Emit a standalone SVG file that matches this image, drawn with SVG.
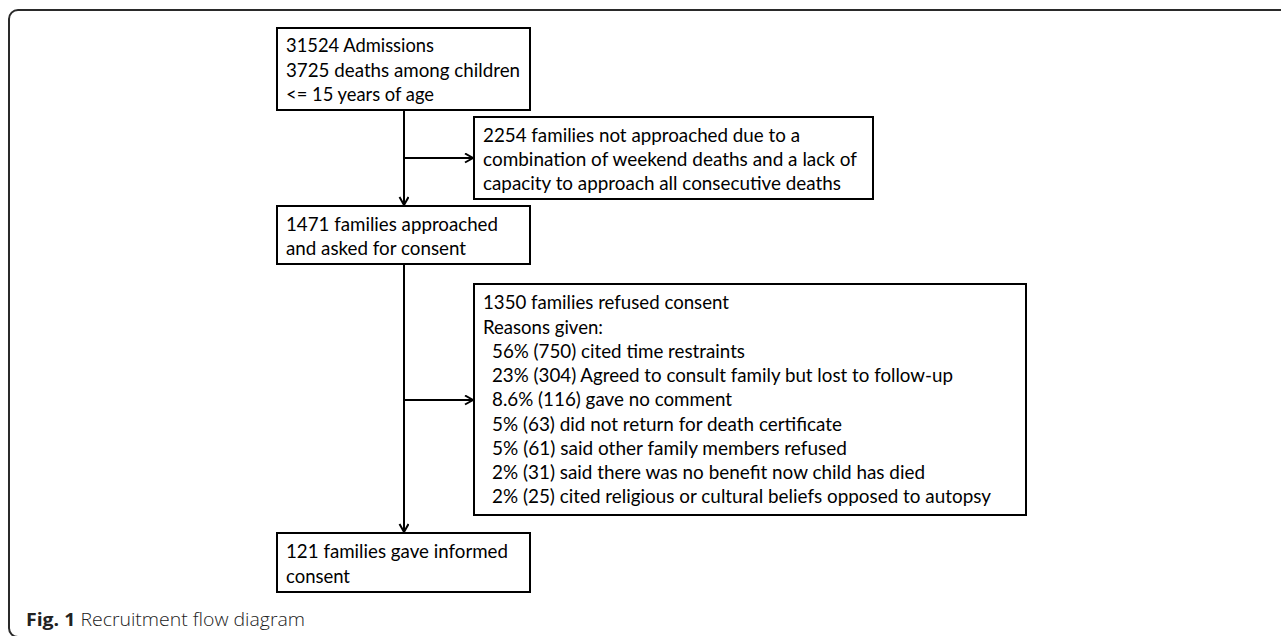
<svg xmlns="http://www.w3.org/2000/svg" width="1281" height="636" viewBox="0 0 1281 636">
<style>
.box{fill:#fff;stroke:#000;stroke-width:2}
.t{font-family:Lato,"Open Sans",sans-serif;font-size:19px;fill:#000}
.conn{stroke:#000;stroke-width:2;fill:none}
.cap{font-family:"Open Sans",sans-serif;font-size:18.5px;fill:#222}
</style>
<defs>
<marker id="arr" markerUnits="userSpaceOnUse" markerWidth="12" markerHeight="12" refX="9" refY="5" orient="auto">
<path d="M1,0.5 L9,5 L1,9.5" fill="none" stroke="#000" stroke-width="2"/>
</marker>
</defs>
<rect width="1281" height="636" fill="#fff"/>
<rect x="9" y="10" width="1300" height="627" rx="9" fill="none" stroke="#2a2a2a" stroke-width="2"/>
<g id="connectors">
<line class="conn" x1="404" y1="110" x2="404" y2="205" marker-end="url(#arr)"/>
<line class="conn" x1="404" y1="158" x2="473" y2="158" marker-end="url(#arr)"/>
<line class="conn" x1="404" y1="264" x2="404" y2="532" marker-end="url(#arr)"/>
<line class="conn" x1="404" y1="400" x2="473" y2="400" marker-end="url(#arr)"/>
</g>
<g id="admissions">
<rect class="box" x="277" y="28" width="253" height="82"/>
<text class="t" x="286" y="52" textLength="148" lengthAdjust="spacingAndGlyphs">31524 Admissions</text>
<text class="t" x="286" y="77" textLength="234" lengthAdjust="spacingAndGlyphs">3725 deaths among children</text>
<text class="t" x="286" y="101" textLength="148" lengthAdjust="spacingAndGlyphs">&lt;= 15 years of age</text>
</g>
<g id="not-approached">
<rect class="box" x="474" y="117" width="399" height="82"/>
<text class="t" x="483" y="142" textLength="317" lengthAdjust="spacingAndGlyphs">2254 families not approached due to a</text>
<text class="t" x="483" y="166" textLength="374" lengthAdjust="spacingAndGlyphs">combination of weekend deaths and a lack of</text>
<text class="t" x="483" y="190" textLength="358" lengthAdjust="spacingAndGlyphs">capacity to approach all consecutive deaths</text>
</g>
<g id="approached">
<rect class="box" x="277" y="206" width="253" height="58"/>
<text class="t" x="286" y="231" textLength="212" lengthAdjust="spacingAndGlyphs">1471 families approached</text>
<text class="t" x="286" y="255" textLength="180" lengthAdjust="spacingAndGlyphs">and asked for consent</text>
</g>
<g id="refused">
<rect class="box" x="474" y="284" width="552" height="231"/>
<text class="t" x="483" y="309" textLength="246" lengthAdjust="spacingAndGlyphs">1350 families refused consent</text>
<text class="t" x="483" y="334" textLength="120" lengthAdjust="spacingAndGlyphs">Reasons given:</text>
<text class="t" x="492" y="358" textLength="253" lengthAdjust="spacingAndGlyphs">56% (750) cited time restraints</text>
<text class="t" x="492" y="382" textLength="461" lengthAdjust="spacingAndGlyphs">23% (304) Agreed to consult family but lost to follow-up</text>
<text class="t" x="492" y="406" textLength="240" lengthAdjust="spacingAndGlyphs">8.6% (116) gave no comment</text>
<text class="t" x="492" y="431" textLength="350" lengthAdjust="spacingAndGlyphs">5% (63) did not return for death certificate</text>
<text class="t" x="492" y="455" textLength="355" lengthAdjust="spacingAndGlyphs">5% (61) said other family members refused</text>
<text class="t" x="492" y="479" textLength="433" lengthAdjust="spacingAndGlyphs">2% (31) said there was no benefit now child has died</text>
<text class="t" x="492" y="503" textLength="499" lengthAdjust="spacingAndGlyphs">2% (25) cited religious or cultural beliefs opposed to autopsy</text>
</g>
<g id="consented">
<rect class="box" x="277" y="533" width="253" height="59"/>
<text class="t" x="286" y="558" textLength="222" lengthAdjust="spacingAndGlyphs">121 families gave informed</text>
<text class="t" x="286" y="583" textLength="64" lengthAdjust="spacingAndGlyphs">consent</text>
</g>
<g id="caption">
<text class="cap" x="26" y="626" textLength="279" lengthAdjust="spacingAndGlyphs"><tspan font-weight="700">Fig. 1</tspan><tspan font-weight="300"> Recruitment flow diagram</tspan></text>
</g>
</svg>
